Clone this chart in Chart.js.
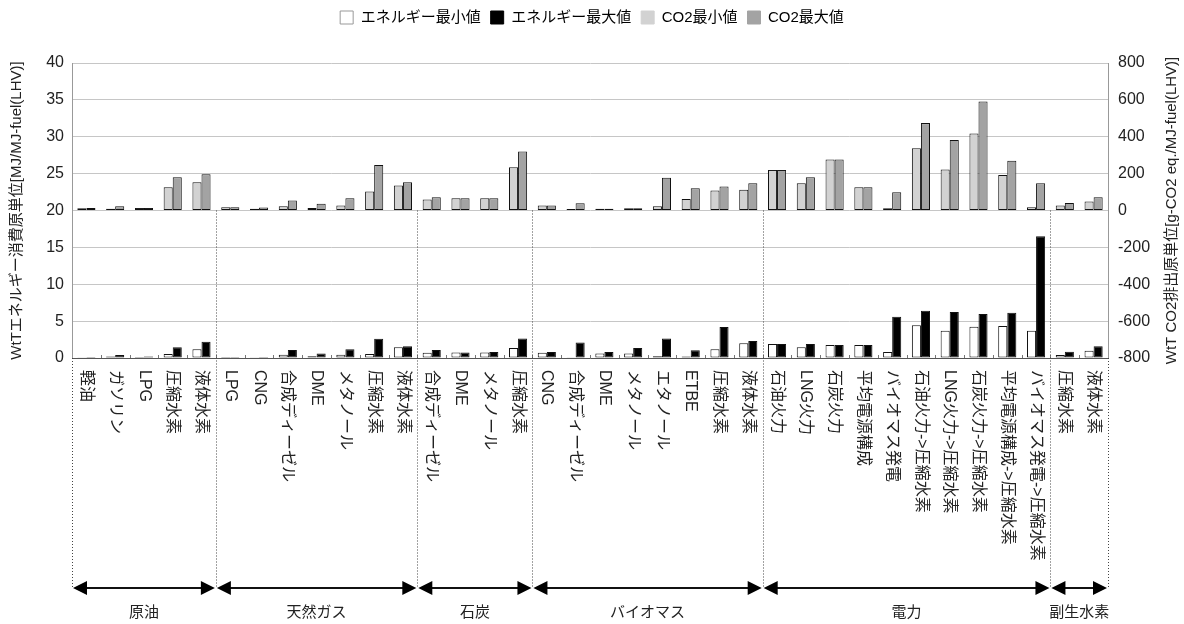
<!DOCTYPE html>
<html>
<head>
<meta charset="utf-8">
<script src="https://cdn.jsdelivr.net/npm/chart.js@4/dist/chart.umd.min.js"></script>
<style>
  html, body { margin: 0; padding: 0; background: #fff; }
  #wrap { width: 1184px; height: 624px; position: relative; }
</style>
</head>
<body>
<div id="wrap"><canvas id="grafico"></canvas></div>
<script>
// categorías (eje X)
const categorias = [
  '軽油', 'ガソリン', 'LPG', '圧縮水素', '液体水素',
  'LPG', 'CNG', '合成ディーゼル', 'DME', 'メタノール', '圧縮水素', '液体水素',
  '合成ディーゼル', 'DME', 'メタノール', '圧縮水素',
  'CNG', '合成ディーゼル', 'DME', 'メタノール', 'エタノール', 'ETBE', '圧縮水素', '液体水素',
  '石油火力', 'LNG火力', '石炭火力', '平均電源構成', 'バイオマス発電',
  '石油火力->圧縮水素', 'LNG火力->圧縮水素', '石炭火力->圧縮水素', '平均電源構成->圧縮水素', 'バイオマス発電->圧縮水素',
  '圧縮水素', '液体水素'
];
const grupos = ['原油', '天然ガス', '石炭', 'バイオマス', '電力', '副生水素'];
const tamGrupos = [5, 7, 4, 8, 10, 2];

// MJ/MJ-fuel
const energiaMin = [0.1, 0.2, 0.15, 0.55, 1.2, 0.15, 0.1, 0.45, 0.25, 0.45, 0.55, 1.45, 0.7, 0.75, 0.75, 1.35,
  0.7, 0.1, 0.6, 0.6, 0.25, 0.2, 1.2, 2.0, 1.9, 1.45, 1.75, 1.75, 0.8, 4.45, 3.7, 4.25, 4.35, 3.7, 0.4, 1.0];
const energiaMax = [0.15, 0.4, 0.2, 1.45, 2.2, 0.15, 0.15, 1.1, 0.6, 1.2, 2.6, 1.6, 1.1, 0.75, 0.8, 2.65,
  0.8, 2.1, 0.8, 1.35, 2.65, 1.05, 4.2, 2.3, 1.9, 1.9, 1.75, 1.75, 5.6, 6.4, 6.25, 5.95, 6.15, 16.5, 0.85, 1.6];
// g-CO2 eq./MJ-fuel
const co2Min = [12, 9, 14, 126, 153, 18, 9, 23, 14, 27, 103, 135, 59, 66, 66, 234,
  27, 8, 10, 12, 23, 63, 108, 112, 220, 148, 276, 126, 12, 337, 222, 418, 193, 18, 27, 49];
const co2Max = [14, 23, 14, 180, 196, 18, 16, 54, 36, 67, 247, 153, 72, 66, 66, 320,
  27, 40, 10, 12, 177, 121, 130, 148, 220, 180, 276, 126, 99, 474, 382, 591, 270, 148, 41, 72];

const FUENTE = "'Liberation Sans', 'Noto Sans CJK JP', sans-serif";
Chart.defaults.font.family = FUENTE;
Chart.defaults.color = '#222';

const COLORES = {
  eMin: '#ffffff',
  eMax: '#000000',
  cMin: '#d2d2d2',
  cMax: '#a3a3a3'
};
const bordeLeyenda = ['#999999', '#000000', COLORES.cMin, COLORES.cMax];

// separacion extra bajo la leyenda
const margenLeyenda = {
  id: 'margenLeyenda',
  beforeInit(chart) {
    const fitOrig = chart.legend.fit;
    chart.legend.fit = function () {
      fitOrig.bind(chart.legend)();
      this.height += 28;
    };
  }
};

// etiquetas verticales, grupos con flechas y titulo derecho
const anotaciones = {
  id: 'anotaciones',
  afterDraw(chart) {
    const ctx = chart.ctx;
    const x = chart.scales.x;
    const y1 = chart.scales.y1;
    const area = chart.chartArea;
    const ancho = area.width / categorias.length;
    const yFlecha = 588;

    ctx.save();
    // marcas pequeñas entre categorias
    ctx.strokeStyle = '#777';
    ctx.lineWidth = 1;
    for (let i = 1; i < categorias.length; i++) {
      const px = Math.round(area.left + i * ancho) + 0.5;
      ctx.beginPath();
      ctx.moveTo(px, area.bottom);
      ctx.lineTo(px, area.bottom - 3);
      ctx.stroke();
    }

    // etiquetas de categoria (giradas 90 grados)
    ctx.fillStyle = '#222';
    ctx.font = '16px ' + FUENTE;
    ctx.textAlign = 'left';
    ctx.textBaseline = 'middle';
    categorias.forEach((c, i) => {
      ctx.save();
      ctx.translate(x.getPixelForValue(i), area.bottom + 12);
      ctx.rotate(Math.PI / 2);
      ctx.fillText(c, 0, 0);
      ctx.restore();
    });

    // limites de grupo
    const limites = [area.left];
    let acc = 0;
    tamGrupos.forEach(n => { acc += n; limites.push(area.left + acc * ancho); });

    ctx.strokeStyle = '#444';
    ctx.lineWidth = 1;
    ctx.setLineDash([1, 2]);
    limites.forEach((lx, i) => {
      const externo = i === 0 || i === limites.length - 1;
      const yIni = externo ? area.bottom : y1.getPixelForValue(0);
      const px = Math.round(lx) + 0.5;
      ctx.beginPath();
      ctx.moveTo(px, yIni);
      ctx.lineTo(px, yFlecha);
      ctx.stroke();
    });
    ctx.setLineDash([]);

    // flechas
    ctx.strokeStyle = '#111';
    ctx.fillStyle = '#000';
    ctx.lineWidth = 2;
    ctx.font = '15px ' + FUENTE;
    ctx.textAlign = 'center';
    ctx.textBaseline = 'middle';
    grupos.forEach((g, i) => {
      const a = limites[i] + 1;
      const b = limites[i + 1] - 1;
      ctx.beginPath();
      ctx.moveTo(a + 6, yFlecha);
      ctx.lineTo(b - 6, yFlecha);
      ctx.stroke();
      ctx.beginPath();
      ctx.moveTo(a, yFlecha);
      ctx.lineTo(a + 14, yFlecha - 7);
      ctx.lineTo(a + 14, yFlecha + 7);
      ctx.closePath();
      ctx.fill();
      ctx.beginPath();
      ctx.moveTo(b, yFlecha);
      ctx.lineTo(b - 14, yFlecha - 7);
      ctx.lineTo(b - 14, yFlecha + 7);
      ctx.closePath();
      ctx.fill();
      ctx.fillStyle = '#222';
      ctx.fillText(g, (a + b) / 2, 613);
      ctx.fillStyle = '#000';
    });

    // titulo eje derecho (leido de abajo hacia arriba)
    ctx.save();
    ctx.translate(1172, (area.top + area.bottom) / 2);
    ctx.rotate(-Math.PI / 2);
    ctx.fillStyle = '#222';
    ctx.font = '15px ' + FUENTE;
    ctx.fillText('WtT CO2排出原単位[g-CO2 eq./MJ-fuel(LHV)]', 0, 0);
    ctx.restore();

    ctx.restore();
  }
};

const data = {
  labels: categorias,
  datasets: [
    { label: 'エネルギー最小値', data: energiaMin, yAxisID: 'y', stack: 'min', backgroundColor: COLORES.eMin },
    { label: 'エネルギー最大値', data: energiaMax, yAxisID: 'y', stack: 'max', backgroundColor: COLORES.eMax },
    { label: 'CO2最小値', data: co2Min, yAxisID: 'y1', stack: 'min', backgroundColor: COLORES.cMin },
    { label: 'CO2最大値', data: co2Max, yAxisID: 'y1', stack: 'max', backgroundColor: COLORES.cMax }
  ]
};
data.datasets.forEach(ds => {
  ds.borderColor = '#111';
  ds.borderWidth = 1;
  ds.borderSkipped = false;
  ds.categoryPercentage = 0.63;
  ds.barPercentage = 1.0;
});

const config = {
  type: 'bar',
  data: data,
  options: {
    responsive: true,
    maintainAspectRatio: false,
    animation: false,
    layout: { padding: 0 },
    plugins: {
      legend: {
        position: 'top',
        labels: {
          boxWidth: 13,
          boxHeight: 13,
          padding: 10,
          color: '#111',
          font: { size: 15 },
          generateLabels: chart => chart.data.datasets.map((ds, i) => ({
            text: ds.label,
            fillStyle: ds.backgroundColor,
            strokeStyle: bordeLeyenda[i],
            lineWidth: 1,
            datasetIndex: i,
            hidden: false
          }))
        }
      },
      tooltip: { enabled: false }
    },
    scales: {
      x: {
        grid: { display: false },
        border: { color: '#555' },
        ticks: { display: false },
        afterFit: s => { s.height = 266; }
      },
      y: {
        position: 'left',
        stacked: false,
        min: 0,
        max: 40,
        ticks: { stepSize: 5, padding: 8, font: { size: 16 }, color: '#222' },
        grid: { color: '#c6c6c6', drawTicks: false },
        border: { color: '#999' },
        title: {
          display: true,
          text: 'WtTエネルギー消費原単位[MJ/MJ-fuel(LHV)]',
          font: { size: 15 },
          color: '#222',
          padding: { top: 8, bottom: 4 }
        },
        afterFit: s => { s.width = 72; }
      },
      y1: {
        position: 'right',
        stacked: false,
        min: -800,
        max: 800,
        ticks: { stepSize: 200, padding: 10, font: { size: 16 }, color: '#222' },
        grid: { drawOnChartArea: false, drawTicks: false },
        border: { color: '#999' },
        afterFit: s => { s.width = 76; }
      }
    }
  },
  plugins: [margenLeyenda, anotaciones]
};

window.addEventListener('DOMContentLoaded', () => {
  const ctx = document.getElementById('grafico').getContext('2d');
  new Chart(ctx, config);
});
</script>
</body>
</html>
